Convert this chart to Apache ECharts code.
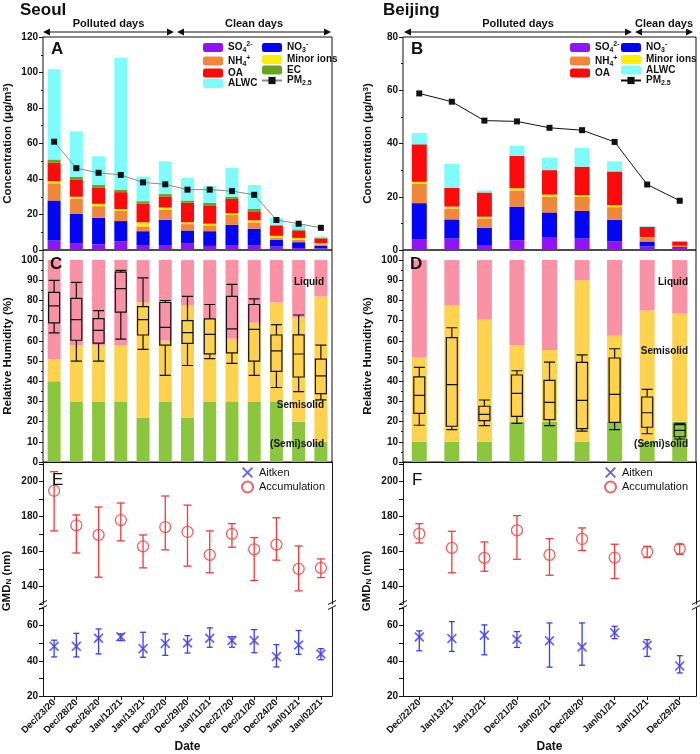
<!DOCTYPE html>
<html>
<head>
<meta charset="utf-8">
<title>Seoul and Beijing PM2.5 composition, phase state and GMD</title>
<script src="https://cdn.jsdelivr.net/npm/echarts@6/dist/echarts.min.js"></script>
<style>
  html, body { margin: 0; padding: 0; background: #fff; }
  #chart { width: 700px; height: 754px; }
</style>
</head>
<body>
<div id="chart"></div>
<script>
/* global echarts */

// ---- Seoul ----
const seoulDates = ["Dec/23/20", "Dec/28/20", "Dec/26/20", "Jan/12/21", "Jan/13/21", "Dec/22/20", "Dec/29/20",
  "Jan/11/21", "Dec/27/20", "Dec/21/20", "Dec/24/20", "Jan/01/21", "Jan/02/21"];
const seoulSO4 = [5.3, 3.6, 3.2, 4.9, 2.8, 2.8, 3.6, 2.3, 2.8, 2.5, 1.9, 1.1, 0.9];
const seoulNO3 = [22.6, 16.7, 15.0, 11.4, 7.8, 14.3, 7.4, 8.3, 11.4, 9.5, 3.8, 3.3, 1.6];
const seoulNH4 = [9.7, 8.7, 6.5, 5.7, 2.7, 5.7, 3.6, 3.3, 5.5, 3.6, 1.3, 1.5, 0.7];
const seoulMinor = [1.1, 1.0, 1.3, 1.1, 2.3, 1.1, 1.0, 0.9, 1.0, 1.1, 1.0, 0.9, 0.6];
const seoulOA = [10.6, 9.8, 9.3, 9.5, 10.6, 6.3, 11.0, 10.4, 8.1, 5.1, 5.7, 4.2, 2.7];
const seoulEC = [1.7, 1.4, 1.3, 1.2, 1.3, 1.3, 1.3, 1.4, 1.2, 1.3, 0.5, 0.6, 0.5];
const seoulALWC = [50.9, 25.6, 16.2, 74.4, 13.9, 18.4, 12.7, 9.4, 16.3, 13.5, 3.8, 3.0, 0.6];
const seoulPM25 = [61.0, 46.1, 43.5, 42.3, 38.1, 37.0, 34.0, 34.0, 33.2, 31.1, 16.9, 14.8, 12.5];
// RH where (semi)solid ends and where liquid starts
const seoulSolidTop = [40, 30, 30, 30, 22, 30, 22, 30, 30, 30, 30, 20, 10];
const seoulLiquidLow = [51, 58, 58, 58, 79, 60, 77.5, 71, 61, 69, 79, 71.5, 82];
const seoulRhLow = [64, 50, 50, 60.9, 55.8, 42.9, 47.8, 51.2, 48.8, 42.9, 36.9, 34.9, 30.8];
const seoulRhQ1 = [68.9, 60.3, 58.9, 74.2, 62.9, 57.9, 58.8, 53.6, 54, 50, 44.9, 42.1, 33.9];
const seoulRhMed = [77.3, 70.5, 65.2, 85.9, 70.5, 66.7, 64.1, 63.2, 65.9, 65.7, 55, 53.5, 42.7];
const seoulRhQ3 = [84, 81, 71, 94, 77, 79, 70, 70.9, 82, 78, 62.9, 63, 51];
const seoulRhHigh = [90, 89, 75, 94.9, 91.2, 80, 82, 78, 88, 80.8, 68, 72.8, 57.9];
const seoulAccMid = [194.6, 174.9, 169.4, 177.9, 162.9, 173.9, 171.1, 158, 170, 161.2, 163.9, 150, 150.6];
const seoulAccLow = [171.7, 159.1, 145.3, 166, 150.6, 160.9, 151.6, 147.8, 162.4, 143.4, 155, 137.5, 145.1];
const seoulAccHigh = [205.5, 180.8, 185.3, 187.6, 169.4, 191.6, 186.4, 171.7, 175.8, 167.9, 179.2, 163.1, 155.7];
const seoulAitMid = [48.2, 48.2, 52.8, 53.7, 46.9, 49.9, 50.1, 52.8, 51.5, 51.5, 42.4, 49, 43.9];
const seoulAitLow = [42.2, 42.2, 43.9, 51.5, 42, 43.1, 44.4, 47.7, 47.7, 44.6, 36.5, 43.7, 40.6];
const seoulAitHigh = [51.7, 55.6, 58.1, 55.3, 56.2, 55.3, 54.3, 58.7, 53.7, 57.7, 49.2, 57.2, 46.9];

// ---- Beijing ----
const beijingDates = ["Dec/22/20", "Jan/13/21", "Jan/12/21", "Dec/21/20", "Jan/02/21", "Dec/28/20", "Jan/01/21",
  "Jan/11/21", "Dec/29/20"];
const beijingSO4 = [3.9, 4.3, 1.6, 3.7, 4.6, 4.3, 3.2, 1.3, 0.8];
const beijingNO3 = [13.7, 7.2, 6.8, 12.6, 9.5, 10.4, 8.1, 1.9, 0.3];
const beijingNH4 = [7.2, 4.1, 3.4, 6.1, 5.9, 5.2, 4.8, 1.4, 0.4];
const beijingMinor = [0.8, 0.7, 0.7, 0.8, 0.8, 0.7, 0.7, 0.2, 0.1];
const beijingOA = [14.1, 7.0, 9.1, 12.1, 9.2, 10.7, 12.7, 3.9, 1.6];
const beijingALWC = [4.2, 9.0, 0.8, 3.9, 4.7, 7.1, 3.8, 0.4, 0.1];
const beijingPM25 = [58.8, 55.7, 48.6, 48.3, 45.9, 45.0, 40.6, 24.6, 18.5];
const beijingSolidTop = [10, 10, 10, 20, 20, 10, 20, 10, 20];
const beijingLiquidLow = [52, 77.5, 70.5, 58, 55.5, 90, 62.5, 75, 73.5];
const beijingRhLow = [18.2, 16, 18, 19.1, 18, 15.3, 16, 14, 11.4];
const beijingRhQ1 = [24.1, 17.7, 20.5, 22.6, 21, 16.5, 19.6, 17.2, 12.5];
const beijingRhMed = [33, 38.3, 23.6, 34, 29.5, 30.5, 33.5, 24.4, 15.7];
const beijingRhQ3 = [42.2, 61.6, 27.6, 43.1, 40.4, 49.3, 51.5, 32.2, 18.5];
const beijingRhHigh = [46.9, 66.5, 30.7, 45.2, 49.5, 53.1, 56.1, 36, 19.1];
const beijingAccMid = [170.1, 162, 156.3, 172, 158, 167.1, 156.5, 159.7, 161.6];
const beijingAccLow = [164.8, 147.8, 148.7, 155.5, 146.4, 160.5, 144.5, 156.5, 158.4];
const beijingAccHigh = [175.8, 171.5, 165.4, 180.4, 167.3, 173.4, 164.1, 162.9, 164.1];
const beijingAitMid = [53.5, 52.6, 54.5, 52.2, 51.4, 47.8, 56, 48.8, 37.1];
const beijingAitLow = [45.7, 45.3, 43.4, 47.6, 36.4, 37.5, 52.6, 42.5, 33.1];
const beijingAitHigh = [57, 62.3, 60.4, 56.6, 61.5, 61.5, 59.6, 52, 42.9];

const FONT = "'Liberation Sans', Arial, sans-serif";
const INK = "#111";
const COLOR = {
  so4: "#9014f5", no3: "#0505f5", nh4: "#f0873a", minor: "#ffee00", oa: "#fb0b0b",
  ec: "#66a320", alwc: "#80fbfb", solid: "#8cc63e", semi: "#fcd24f", liquid: "#f992a5",
  acc: "#f03c3c", ait: "#3c3cf0",
};
const LABELS = {
  so4: "{n|SO}{sub|4}{sup|2-}", no3: "{n|NO}{sub|3}{sup|-}", nh4: "{n|NH}{sub|4}{sup|+}",
  minor: "{n|Minor ions}", oa: "{n|OA}", ec: "{n|EC}", alwc: "{n|ALWC}", pm: "{n|PM}{sub|2.5}",
  ait: "Aitken", acc: "Accumulation",
};
const X_PATH = "path://M0,1.2L1.2,0L5,3.8L8.8,0L10,1.2L6.2,5L10,8.8L8.8,10L5,6.2L1.2,10L0,8.8L3.8,5Z";

const legendRich = {
  n: { fontFamily: FONT, fontSize: 10, fontWeight: "bold", color: INK, lineHeight: 13 },
  sub: { fontFamily: FONT, fontSize: 7, fontWeight: "bold", color: INK, verticalAlign: "bottom" },
  sup: { fontFamily: FONT, fontSize: 7, fontWeight: "bold", color: INK, verticalAlign: "top" },
};

const cities = [
  {
    key: "Seoul", left: 43, width: 289, dates: seoulDates, barWidth: 13, aMax: 120, pmLine: "#8a8a8a",
    parts: [["so4", seoulSO4], ["no3", seoulNO3], ["nh4", seoulNH4], ["minor", seoulMinor],
      ["oa", seoulOA], ["ec", seoulEC], ["alwc", seoulALWC]],
    pm: seoulPM25, solidTop: seoulSolidTop, liquidLow: seoulLiquidLow,
    rh: [seoulRhLow, seoulRhQ1, seoulRhMed, seoulRhQ3, seoulRhHigh],
    acc: [seoulAccMid, seoulAccLow, seoulAccHigh], ait: [seoulAitMid, seoulAitLow, seoulAitHigh],
    legendCols: [[203, ["so4", "nh4", "oa", "alwc"]], [261, ["no3", "minor", "ec", "pm"]]],
    eLegendLeft: 241, titleX: 20, nameX: 7,
    phaseY: [282, 405, 444],
    periods: [["Polluted days", 43, 174], ["Clean days", 177, 331]],
    letters: ["A", "C", "E"],
  },
  {
    key: "Beijing", left: 403, width: 293, dates: beijingDates, barWidth: 15, aMax: 80, pmLine: INK,
    parts: [["so4", beijingSO4], ["no3", beijingNO3], ["nh4", beijingNH4], ["minor", beijingMinor],
      ["oa", beijingOA], ["alwc", beijingALWC]],
    pm: beijingPM25, solidTop: beijingSolidTop, liquidLow: beijingLiquidLow,
    rh: [beijingRhLow, beijingRhQ1, beijingRhMed, beijingRhQ3, beijingRhHigh],
    acc: [beijingAccMid, beijingAccLow, beijingAccHigh], ait: [beijingAitMid, beijingAitLow, beijingAitHigh],
    legendCols: [[570, ["so4", "nh4", "oa"]], [620, ["no3", "minor", "alwc", "pm"]]],
    eLegendLeft: 604, titleX: 383, nameX: 367,
    phaseY: [282, 351, 444],
    periods: [["Polluted days", 404, 632], ["Clean days", 635, 693]],
    letters: ["B", "D", "F"],
  },
];

function errorBars(xIdx, yIdx, low, high, color, cap) {
  return {
    type: "custom", xAxisIndex: xIdx, yAxisIndex: yIdx, silent: true, z: 3,
    data: low.map((v, i) => [i, v, high[i]]),
    renderItem: (params, api) => {
      const top = api.coord([api.value(0), api.value(2)]);
      const bot = api.coord([api.value(0), api.value(1)]);
      const style = { stroke: color, lineWidth: 1.3 };
      const children = [{ type: "line", shape: { x1: top[0], y1: top[1], x2: bot[0], y2: bot[1] }, style }];
      if (cap) {
        children.push({ type: "line", shape: { x1: top[0] - cap, y1: top[1], x2: top[0] + cap, y2: top[1] }, style });
        children.push({ type: "line", shape: { x1: bot[0] - cap, y1: bot[1], x2: bot[0] + cap, y2: bot[1] }, style });
      }
      return { type: "group", children };
    },
  };
}

function text(str, x, y, opt) {
  return {
    type: "text", x, y, z: 100, silent: true,
    style: Object.assign({
      text: str, fill: INK, fontFamily: FONT, fontSize: 10, fontWeight: "bold",
      align: "left", verticalAlign: "middle", textAlign: "left", textVerticalAlign: "middle",
    }, opt),
  };
}

function arrow(x1, x2, y) {
  return [
    { type: "line", z: 100, silent: true, shape: { x1: x1 + 2, y1: y, x2: x2 - 2, y2: y }, style: { stroke: INK, lineWidth: 1 } },
    { type: "polygon", z: 100, silent: true, shape: { points: [[x1, y], [x1 + 7, y - 3.5], [x1 + 7, y + 3.5]] }, style: { fill: INK } },
    { type: "polygon", z: 100, silent: true, shape: { points: [[x2, y], [x2 - 7, y - 3.5], [x2 - 7, y + 3.5]] }, style: { fill: INK } },
  ];
}

const grid = [];
const xAxis = [];
const yAxis = [];
const series = [];
const legend = [];
const elements = [];

cities.forEach((c, ci) => {
  const g = ci * 4;
  const yb = ci * 6;
  const frame = { show: true, borderColor: INK, borderWidth: 1, backgroundColor: "transparent" };
  grid.push(
    Object.assign({ left: c.left, width: c.width, top: 37, height: 213 }, frame),
    Object.assign({ left: c.left, width: c.width, top: 250, height: 212 }, frame),
    { left: c.left, width: c.width, top: 462, height: 142 },
    { left: c.left, width: c.width, top: 608, height: 88 }
  );

  const line = { show: true, onZero: false, lineStyle: { color: INK, width: 1 } };
  const cat = (k, extra) => Object.assign({
    type: "category", gridIndex: g + k, data: c.dates,
    axisLine: { show: false }, axisTick: { show: false }, axisLabel: { show: false }, splitLine: { show: false },
  }, extra);
  xAxis.push(
    cat(0), cat(1),
    cat(2, { position: "top", axisLine: line }),
    cat(3, {
      axisLine: line,
      axisTick: { show: true, alignWithLabel: true, length: 4, lineStyle: { color: INK } },
      axisLabel: { show: true, interval: 0, rotate: 45, margin: 5, fontFamily: FONT, fontSize: 9.5, fontWeight: "bold", color: INK },
      name: "Date", nameLocation: "middle", nameGap: 45,
      nameTextStyle: { fontFamily: FONT, fontSize: 12, fontWeight: "bold", color: INK },
    })
  );

  const nameStyle = {
    fontFamily: FONT, fontSize: 11.5, fontWeight: "bold", color: INK,
    rich: { sup: { fontFamily: FONT, fontSize: 8, fontWeight: "bold", color: INK, verticalAlign: "top" } },
  };
  const minor = { show: true, splitNumber: 2, length: 2, lineStyle: { color: INK } };
  const val = (k, min, max, interval, step, extra) => Object.assign({
    type: "value", gridIndex: g + k, min, max, interval,
    axisLine: { show: false },
    axisTick: { show: true, length: 4, lineStyle: { color: INK } },
    minorTick: { show: false },
    splitLine: { show: false },
    axisLabel: {
      fontFamily: FONT, fontSize: 10, fontWeight: "bold", color: INK, margin: 5,
      formatter: (v) => (v % step === 0 ? String(v) : ""),
    },
  }, extra);
  const edge = (k, min, max) => ({
    type: "value", gridIndex: g + k, position: "right", min, max,
    axisLine: line, axisTick: { show: false }, axisLabel: { show: false }, splitLine: { show: false },
  });
  yAxis.push(
    val(0, 0, c.aMax, 20, 20, {
      minorTick: minor, name: "Concentration (μg/m{sup|3})", nameLocation: "middle", nameGap: 29, nameTextStyle: nameStyle,
    }),
    val(1, 0, 105, 10, 10, {
      minorTick: minor, name: "Relative Humidity (%)", nameLocation: "middle", nameGap: 29, nameTextStyle: nameStyle,
    }),
    val(2, 130, 211, 10, 20, { axisLine: line }),
    edge(2, 130, 211),
    val(3, 20, 70, 10, 20, { axisLine: line }),
    edge(3, 20, 70)
  );

  // A / B: stacked composition + PM2.5
  c.parts.forEach(([k, arr]) => series.push({
    type: "bar", name: `${c.key}|${k}`, xAxisIndex: g, yAxisIndex: yb, stack: c.key + "A",
    barWidth: c.barWidth, data: arr, itemStyle: { color: COLOR[k] }, silent: true,
  }));
  series.push({
    type: "line", name: `${c.key}|pm`, xAxisIndex: g, yAxisIndex: yb, data: c.pm,
    symbol: "rect", symbolSize: 6, itemStyle: { color: INK }, lineStyle: { color: c.pmLine, width: 1 }, z: 5, silent: true,
  });

  // C / D: phase state bands + RH boxes
  const semi = c.liquidLow.map((v, i) => +(v - c.solidTop[i]).toFixed(1));
  const liquid = c.liquidLow.map((v) => +(100 - v).toFixed(1));
  [["solid", c.solidTop], ["semi", semi], ["liquid", liquid]].forEach(([k, arr]) => series.push({
    type: "bar", name: `${c.key}|${k}`, xAxisIndex: g + 1, yAxisIndex: yb + 1, stack: c.key + "C",
    barWidth: c.barWidth, data: arr, itemStyle: { color: COLOR[k] }, silent: true,
  }));
  series.push({
    type: "boxplot", xAxisIndex: g + 1, yAxisIndex: yb + 1, boxWidth: [11, 11], silent: true, z: 5,
    data: c.dates.map((d, i) => c.rh.map((a) => a[i])),
    itemStyle: { color: "transparent", borderColor: INK, borderWidth: 1.2 },
  });

  // E / F: GMD with broken axis
  series.push(errorBars(g + 2, yb + 2, c.acc[1], c.acc[2], COLOR.acc, 4));
  series.push({
    type: "scatter", name: `${c.key}|acc`, xAxisIndex: g + 2, yAxisIndex: yb + 2, data: c.acc[0],
    symbol: "circle", symbolSize: 11, z: 4, silent: true,
    itemStyle: { color: "transparent", borderColor: COLOR.acc, borderWidth: 1.3 },
  });
  series.push(errorBars(g + 3, yb + 4, c.ait[1], c.ait[2], COLOR.ait, 3));
  series.push({
    type: "scatter", name: `${c.key}|ait`, xAxisIndex: g + 3, yAxisIndex: yb + 4, data: c.ait[0],
    symbol: X_PATH, symbolSize: 10, z: 4, silent: true, itemStyle: { color: COLOR.ait },
  });

  c.legendCols.forEach(([left, keys]) => legend.push({
    left, top: 41, orient: "vertical", padding: 0, itemWidth: 20, itemHeight: 9, itemGap: 0.5, selectedMode: false,
    data: keys.map((k) => `${c.key}|${k}`),
    formatter: (name) => LABELS[name.split("|")[1]],
    textStyle: { fontFamily: FONT, fontSize: 10, fontWeight: "bold", color: INK, rich: legendRich },
  }));
  legend.push({
    left: c.eLegendLeft, top: 467, orient: "vertical", padding: 0, itemWidth: 13, itemHeight: 11, itemGap: 2.5,
    selectedMode: false, data: [`${c.key}|ait`, `${c.key}|acc`],
    formatter: (name) => LABELS[name.split("|")[1]],
    textStyle: { fontFamily: FONT, fontSize: 11, color: INK },
  });

  // titles, period arrows, panel letters, phase names
  const right = c.left + c.width;
  elements.push(text(c.key, c.titleX, 10, { fontSize: 17 }));
  c.periods.forEach(([label, x1, x2]) => {
    elements.push(text(label, (x1 + x2) / 2, 24, { fontSize: 11, align: "center", textAlign: "center" }));
    elements.push(...arrow(x1, x2, 32));
  });
  elements.push(text(c.letters[0], c.left + 8, 49, { fontSize: 17 }));
  elements.push(text(c.letters[1], c.left + 7, 264, { fontSize: 17 }));
  elements.push(text(c.letters[2], c.left + 9, 480, { fontSize: 17, fontWeight: "normal" }));
  [["Liquid", 0], ["Semisolid", 1], ["(Semi)solid", 2]].forEach(([label, i]) => {
    elements.push(text(label, right - 8, c.phaseY[i], { align: "right", textAlign: "right" }));
  });
  elements.push({
    type: "text", x: c.nameX, y: 581, z: 100, rotation: Math.PI / 2, silent: true,
    style: {
      text: "{n|GMD}{s|N}{n| (nm)}", align: "center", verticalAlign: "middle",
      textAlign: "center", textVerticalAlign: "middle",
      rich: {
        n: { fontFamily: FONT, fontSize: 11.5, fontWeight: "bold", fill: INK, color: INK },
        s: { fontFamily: FONT, fontSize: 8, fontWeight: "bold", fill: INK, color: INK, verticalAlign: "bottom" },
      },
    },
  });
  // axis break marks
  [c.left, right].forEach((x) => {
    [603, 608].forEach((y) => elements.push({
      type: "line", z: 100, silent: true, shape: { x1: x - 4, y1: y + 1.5, x2: x + 4, y2: y - 2.5 }, style: { stroke: INK, lineWidth: 1 },
    }));
  });
});

const chart = echarts.init(document.getElementById("chart"), null, { renderer: "canvas" });
chart.setOption({
  animation: false,
  backgroundColor: "#fff",
  textStyle: { fontFamily: FONT },
  grid, xAxis, yAxis, series, legend,
  graphic: { elements },
});
</script>
</body>
</html>
